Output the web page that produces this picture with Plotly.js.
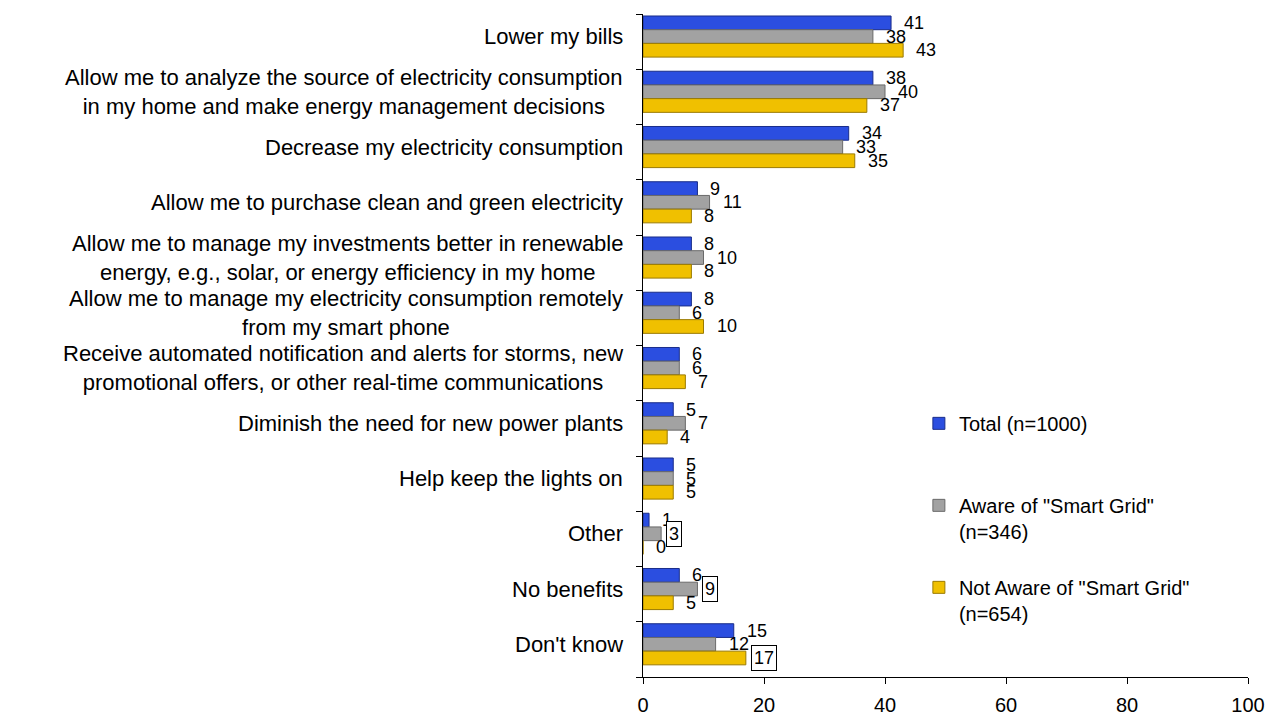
<!DOCTYPE html>
<html>
<head>
<meta charset="utf-8">
<script src="https://cdn.plot.ly/plotly-3.0.1.min.js"></script>
<style>html,body{margin:0;padding:0;background:#fff;}#chart{width:1280px;height:717px;}</style>
</head>
<body>
<div id="chart"></div>
<script>
const categories = [
  "Lower my bills",
  "Allow me to analyze the source of electricity consumption<br>in my home and make energy management decisions",
  "Decrease my electricity consumption",
  "Allow me to purchase clean and green electricity",
  "Allow me to manage my investments better in renewable<br>energy, e.g., solar, or energy efficiency in my home",
  "Allow me to manage my electricity consumption remotely<br>from my smart phone",
  "Receive automated notification and alerts for storms, new<br>promotional offers, or other real-time communications",
  "Diminish the need for new power plants",
  "Help keep the lights on",
  "Other",
  "No benefits",
  "Don't know"
];
const seriesNames = ["Total (n=1000)<br> ", "Aware of \"Smart Grid\"<br>(n=346)", "Not Aware of \"Smart Grid\"<br>(n=654)"];
const total    = [41, 38, 34, 9, 8, 8, 6, 5, 5, 1, 6, 15];
const aware    = [38, 40, 33, 11, 10, 6, 6, 7, 5, 3, 9, 12];
const notAware = [43, 37, 35, 8, 8, 10, 7, 4, 5, 0, 5, 17];
// labels drawn with a box in the original: [series index, category index]
const boxedLabels = [[1, 9], [1, 10], [2, 11]];
const xTicks = [0, 20, 40, 60, 80, 100];

const colors = ["#2b4ee0", "#a2a2a2", "#f0c000"];
const lineColors = ["#1a2d8a", "#6a6a6a", "#9a7a00"];
const barW = 0.248;
const offsets = [-0.464, -0.216, 0.032];
const allSeries = [total, aware, notAware];
const idx = categories.map((c, i) => i);
const FONT = "Liberation Sans, Arial, sans-serif";

const traces = allSeries.map((vals, s) => ({
  type: "bar",
  orientation: "h",
  name: seriesNames[s],
  legendgroup: "g" + s,
  x: vals,
  y: idx,
  width: barW,
  offset: offsets[s],
  marker: {color: colors[s], line: {color: lineColors[s], width: 1}},
  hoverinfo: "x+name"
}));

const annotations = [];
allSeries.forEach((vals, s) => {
  vals.forEach((v, i) => {
    const boxed = boxedLabels.some(b => b[0] === s && b[1] === i);
    annotations.push({
      x: v, y: i + offsets[s] + barW / 2,
      xref: "x", yref: "y",
      text: String(v),
      showarrow: false,
      xanchor: "left", yanchor: "middle",
      xshift: boxed ? 5 : 13,
      font: {family: FONT, size: 18, color: "#000"},
      bordercolor: boxed ? "#000" : "rgba(0,0,0,0)",
      borderwidth: boxed ? 1 : 0,
      borderpad: boxed ? 2 : 0,
      bgcolor: boxed ? "#fff" : "rgba(0,0,0,0)"
    });
  });
});
categories.forEach((c, i) => {
  annotations.push({
    x: 0, xref: "paper", y: i - 0.092, yref: "y",
    text: c, showarrow: false,
    xanchor: "right", yanchor: "middle", align: "center",
    xshift: -18,
    font: {family: FONT, size: 22, color: "#000"}
  });
});

const layout = {
  width: 1280, height: 717,
  margin: {l: 643, r: 32, t: 14, b: 40},
  paper_bgcolor: "#fff", plot_bgcolor: "#fff",
  barmode: "group",
  font: {family: FONT, size: 20, color: "#000"},
  showlegend: true,
  legend: {
    x: 0.456, y: 0.412, xanchor: "left", yanchor: "top",
    traceorder: "grouped", tracegroupgap: 27, valign: "top",
    font: {family: FONT, size: 20, color: "#000"},
    bgcolor: "rgba(0,0,0,0)"
  },
  xaxis: {
    range: [0, 100], tickvals: xTicks, ticktext: xTicks.map(String),
    showgrid: false, zeroline: false,
    showline: true, linecolor: "#000", linewidth: 1,
    ticks: "outside", ticklen: 6, tickcolor: "#000",
    ticklabelstandoff: 4,
    tickfont: {size: 20}
  },
  yaxis: {
    type: "linear",
    range: [11.5, -0.5],
    tickvals: idx.map(i => i - 0.5).concat([11.5]),
    showticklabels: false,
    showgrid: false, zeroline: false,
    showline: true, linecolor: "#000", linewidth: 1,
    ticks: "outside", ticklen: 6, tickcolor: "#000"
  },
  annotations: annotations
};

Plotly.newPlot("chart", traces, layout, {displayModeBar: false, staticPlot: true});
</script>
</body>
</html>
